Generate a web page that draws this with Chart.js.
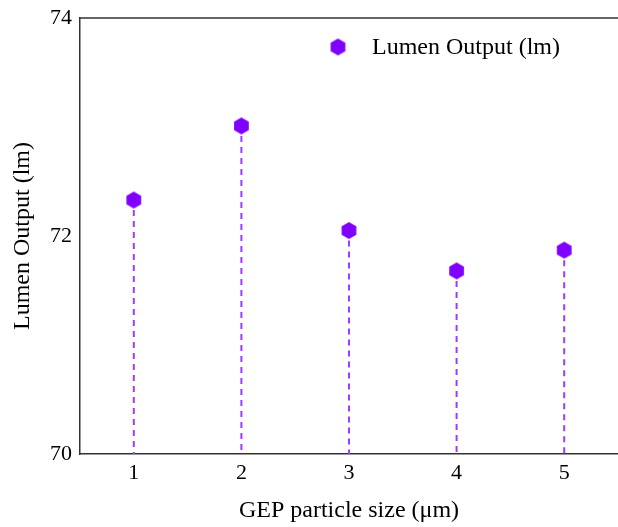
<!DOCTYPE html>
<html>
<head>
<meta charset="utf-8">
<script src="https://cdn.jsdelivr.net/npm/chart.js@4.4.0/dist/chart.umd.min.js"></script>
<style>
html, body { margin: 0; padding: 0; background: #fff; }
</style>
</head>
<body>
<canvas id="mycanvas" width="618" height="527"></canvas>
<script>
// data
var sizes = ['1', '2', '3', '4', '5'];
var lumen = [72.33, 73.01, 72.05, 71.68, 71.87];
var yTicks = [70, 72, 74];
var seriesName = 'Lumen Output (lm)';

var fontFamily = '"Liberation Serif", "Times New Roman", serif';
var markerColor = '#7f00ff';
var stemColor = '#9b3dff';
var axisColor = '#333333';

// hexagon marker (pointy top)
function hexagon(r) {
	var c = document.createElement('canvas');
	var s = Math.ceil(r * 2 + 2);
	c.width = s;
	c.height = s;
	var g = c.getContext('2d');
	g.beginPath();
	for (var i = 0; i < 6; i++) {
		var a = Math.PI / 2 + i * Math.PI / 3;
		var px = s / 2 + r * Math.cos(a);
		var py = s / 2 - r * Math.sin(a);
		if (i === 0) g.moveTo(px, py); else g.lineTo(px, py);
	}
	g.closePath();
	g.fillStyle = markerColor;
	g.fill();
	return c;
}
var hex = hexagon(8.5);

// dashed stems down to the x axis, top frame line, legend
var extras = {
	id: 'extras',
	beforeDatasetsDraw: function(chart) {
		var ctx = chart.ctx;
		var area = chart.chartArea;
		var meta = chart.getDatasetMeta(0);
		ctx.save();
		ctx.strokeStyle = stemColor;
		ctx.lineWidth = 2;
		ctx.setLineDash([6, 5]);
		meta.data.forEach(function(pt) {
			ctx.beginPath();
			ctx.moveTo(pt.x, pt.y + 10);
			ctx.lineTo(pt.x, area.bottom);
			ctx.stroke();
		});
		ctx.restore();
	},
	afterDraw: function(chart) {
		var ctx = chart.ctx;
		var area = chart.chartArea;
		ctx.save();
		ctx.strokeStyle = axisColor;
		ctx.lineWidth = 1.5;
		ctx.beginPath();
		ctx.moveTo(area.left, area.top);
		ctx.lineTo(chart.width, area.top);
		ctx.stroke();

		var lx = area.left + 258;
		var ly = area.top + 29;
		ctx.drawImage(hex, lx - hex.width / 2, ly - hex.height / 2);
		ctx.fillStyle = '#000';
		ctx.font = '24px ' + fontFamily;
		ctx.textBaseline = 'middle';
		ctx.textAlign = 'left';
		ctx.fillText(seriesName, lx + 34, ly + 1);
		ctx.restore();
	}
};

var ctx = document.getElementById('mycanvas');

var new_chart = new Chart(ctx, {
	type: 'line',
	data: {
		labels: sizes,
		datasets: [{
			label: seriesName,
			data: lumen,
			showLine: false,
			pointStyle: hex,
			pointRadius: 8,
			pointHoverRadius: 8,
			backgroundColor: markerColor,
			borderColor: markerColor
		}]
	},
	options: {
		responsive: false,
		animation: false,
		devicePixelRatio: 1,
		layout: { autoPadding: false, padding: { top: 18, right: 0, left: 0, bottom: 0 } },
		plugins: {
			legend: { display: false },
			tooltip: { enabled: false }
		},
		scales: {
			x: {
				type: 'category',
				offset: true,
				grid: { display: false, drawTicks: false },
				border: { display: true, color: axisColor, width: 1.5 },
				ticks: {
					color: '#000',
					padding: 6,
					font: { family: fontFamily, size: 22 }
				},
				title: {
					display: true,
					text: 'GEP particle size (\u03bcm)',
					color: '#000',
					padding: { top: 0, bottom: 2 },
					font: { family: fontFamily, size: 24 }
				},
				afterFit: function(scale) {
					scale.height = 73;
					scale.paddingLeft = 0;
					scale.paddingRight = 0;
				}
			},
			y: {
				min: 70,
				max: 74,
				grid: { display: false, drawTicks: false },
				border: { display: true, color: axisColor, width: 1.5 },
				afterBuildTicks: function(scale) {
					scale.ticks = yTicks.map(function(v) { return { value: v }; });
				},
				ticks: {
					color: '#000',
					padding: 8,
					font: { family: fontFamily, size: 22 }
				},
				title: {
					display: true,
					text: 'Lumen Output (lm)',
					color: '#000',
					padding: { top: 8, bottom: 0 },
					font: { family: fontFamily, size: 24 }
				},
				afterFit: function(scale) {
					scale.width = 80;
					scale.paddingTop = 0;
					scale.paddingBottom = 0;
				}
			}
		}
	},
	plugins: [extras]
});
</script>
</body>
</html>
